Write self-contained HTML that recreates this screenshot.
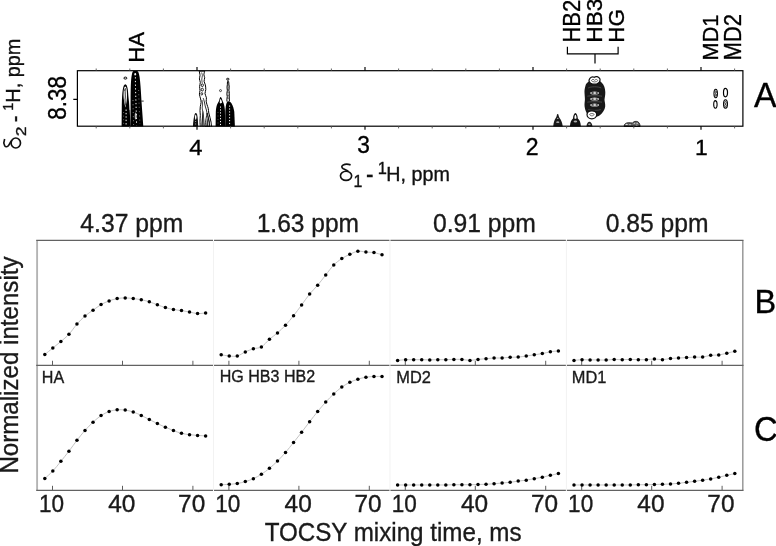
<!DOCTYPE html>
<html><head><meta charset="utf-8"><style>
html,body{margin:0;padding:0;background:#fff;}
body{width:776px;height:546px;overflow:hidden;}
svg{display:block;filter:grayscale(1);}
text{font-family:"Liberation Sans", sans-serif;}
</style></head><body>
<svg width="776" height="546" viewBox="0 0 776 546">
<rect width="776" height="546" fill="#fff"/>
<g id="contours">
<path d="M121.6,126.4 L121.8,105 C122,98 122.2,93 122.8,89.5 C123.4,86 124.2,84.3 125.3,84.2 C126.5,84.3 127.3,86 127.8,89.5 C128.3,93 128.6,98 129.4,105 L130.6,126.4 Z" fill="#000"/>
<path d="M123.5,95 C123.6,89.5 124.2,86.4 125.3,86.4 C126.4,86.4 126.9,89.5 127.0,95 C127.0,99.5 126.4,103.5 125.4,107.5 C124.4,103.5 123.6,99.5 123.5,95 Z" fill="#fff"/>
<path d="M125.3,88.2 C124.7,92 125.8,96 125.0,100 C125.4,102 125.2,104 125.4,105.5" stroke="#000" stroke-width="0.8" fill="none"/>
<path d="M124.5,91 C124.6,89.6 125,88.8 125.3,88.8" stroke="#000" stroke-width="0.5" fill="none"/>
<path d="M126.1,109.5 V125.5" stroke="#fff" stroke-width="1" stroke-dasharray="1.4 2.0" fill="none"/>
<path d="M123.6,112 V125" stroke="#fff" stroke-width="0.6" stroke-dasharray="1 2.6" fill="none" opacity="0.6"/>
<path d="M130.4,126.4 L130.6,100 C130.7,88 130.9,80 131.6,76 C132.1,72.8 132.8,71.1 133.6,71.0 L137.2,71.0 C138.2,71.1 139,73 139.6,77 C140.4,83 141,92 141.4,100 L143.3,126.4 Z" fill="#000"/>
<path d="M135.4,73.5 C135.3,90 136.2,105 136.6,125.5" stroke="#fff" stroke-width="1" stroke-dasharray="1.3 2.4" fill="none"/>
<path d="M133.0,100 C133.1,110 133.4,118 133.6,125" stroke="#fff" stroke-width="0.7" stroke-dasharray="1 3" fill="none" opacity="0.7"/>
<path d="M138.6,90 C139.0,102 139.5,114 139.9,124" stroke="#fff" stroke-width="0.7" stroke-dasharray="1 3.2" fill="none" opacity="0.6"/>
<path d="M128.9,92 C129.3,98 129.6,104 129.9,110" stroke="#fff" stroke-width="0.7" fill="none" opacity="0.8"/>
<ellipse cx="135.7" cy="116" rx="1.0" ry="3.5" fill="#fff" opacity="0.7"/>
<ellipse cx="135.2" cy="74.2" rx="0.9" ry="1.3" fill="#fff" opacity="0.9"/>
<ellipse cx="125.4" cy="78.1" rx="1.5" ry="1.0" fill="none" stroke="#000" stroke-width="1"/>
<path d="M141.3,101.1H143.7" stroke="#000" stroke-width="0.8"/>
<path d="M199.20,71.00 C199.33,71.73 199.97,74.08 200.00,75.40 C200.03,76.72 199.35,77.73 199.40,78.90 C199.45,80.07 200.27,81.13 200.30,82.40 C200.33,83.67 199.65,85.13 199.60,86.50 C199.55,87.87 200.03,89.32 200.00,90.60 C199.97,91.88 199.30,92.82 199.40,94.20 C199.50,95.58 200.32,97.53 200.60,98.90 C200.88,100.27 201.15,101.13 201.10,102.40 C201.05,103.67 200.48,105.13 200.30,106.50 C200.12,107.87 200.00,109.13 200.00,110.60 C200.00,112.07 200.30,113.53 200.30,115.30 C200.30,117.07 200.00,119.32 200.00,121.20 C200.00,123.08 200.25,125.70 200.30,126.60" fill="none" stroke="#000" stroke-width="1.0"/>
<path d="M204.70,71.00 C204.57,71.63 203.90,73.68 203.90,74.80 C203.90,75.92 204.67,76.62 204.70,77.70 C204.73,78.78 204.00,80.12 204.10,81.30 C204.20,82.48 205.02,83.43 205.30,84.80 C205.58,86.17 205.85,88.03 205.80,89.50 C205.75,90.97 204.90,92.23 205.00,93.60 C205.10,94.97 206.20,96.43 206.40,97.70 C206.60,98.97 206.10,100.03 206.20,101.20 C206.30,102.37 206.67,103.52 207.00,104.70 C207.33,105.88 207.90,106.92 208.20,108.30 C208.50,109.68 208.50,111.45 208.80,113.00 C209.10,114.55 209.62,116.05 210.00,117.60 C210.38,119.15 210.82,120.80 211.10,122.30 C211.38,123.80 211.60,125.88 211.70,126.60" fill="none" stroke="#000" stroke-width="1.0"/>
<path d="M199.3,71.2 H204.6" fill="none" stroke="#000" stroke-width="0.8"/>
<path d="M201.60,72.50 C201.73,73.00 202.37,74.42 202.40,75.50 C202.43,76.58 201.83,77.75 201.80,79.00 C201.77,80.25 202.13,82.33 202.20,83.00" fill="none" stroke="#000" stroke-width="0.7"/>
<path d="M203.20,98.00 C203.40,98.67 204.07,100.67 204.40,102.00 C204.73,103.33 204.87,104.67 205.20,106.00 C205.53,107.33 206.07,108.67 206.40,110.00 C206.73,111.33 206.87,112.67 207.20,114.00 C207.53,115.33 208.03,116.67 208.40,118.00 C208.77,119.33 209.17,120.57 209.40,122.00 C209.63,123.43 209.73,125.83 209.80,126.60" fill="none" stroke="#000" stroke-width="0.8"/>
<path d="M202.00,100.00 C202.10,100.67 202.57,102.67 202.60,104.00 C202.63,105.33 202.17,106.67 202.20,108.00 C202.23,109.33 202.73,110.67 202.80,112.00 C202.87,113.33 202.57,114.67 202.60,116.00 C202.63,117.33 202.90,118.23 203.00,120.00 C203.10,121.77 203.17,125.50 203.20,126.60" fill="none" stroke="#000" stroke-width="0.7"/>
<ellipse cx="202.3" cy="85.2" rx="1.1" ry="1.4" fill="none" stroke="#000" stroke-width="0.85"/>
<ellipse cx="202.3" cy="89.6" rx="1.1" ry="1.4" fill="none" stroke="#000" stroke-width="0.85"/>
<ellipse cx="201.8" cy="93.8" rx="0.9" ry="1.2" fill="none" stroke="#000" stroke-width="0.8"/>
<path d="M201.2,126.4 C201.6,120 202.2,115 203,110.5 C203.8,113 204.2,118 204.6,126.4 Z" fill="#222"/>
<path d="M202.6,126.4 C202.8,122 203,118 203.2,115 C203.4,118 203.5,122 203.6,126.4 Z" fill="#fff" opacity="0.6"/>
<path d="M205,126.4 C205.6,121 206.4,116 207.2,113 C208,116 208.8,121 209.8,126.4 Z" fill="none" stroke="#111" stroke-width="0.9"/>
<path d="M206.2,126.4 C206.6,122 207,119 207.3,117 C207.7,119 208.1,122 208.5,126.4 Z" fill="#333"/>
<path d="M192.9,126.4 C193.2,121 193.8,117 194.6,114.5 C195,113.4 195.5,113 195.8,113 C196.4,113 196.8,113.6 197.1,114.6 C197.7,117 198,121 198.2,126.4 Z" fill="#111"/>
<path d="M194.9,117 C195.1,115.4 195.4,114.8 195.7,114.8 C196,114.8 196.3,115.4 196.5,117 C196.4,118.6 196,119.6 195.7,120 C195.3,119.6 195,118.6 194.9,117 Z" fill="#fff"/>
<path d="M195.6,121 V126" stroke="#fff" stroke-width="0.6" stroke-dasharray="1 1.5"/>
<path d="M215.6,126.4 L215.8,112 C216,108 216.6,105 217.6,103.4 C218.2,102.5 218.8,101.8 219.2,100.6 C219.6,98.4 220,97.1 220.6,97.1 C221.4,97.3 222.2,99.5 222.8,101.6 C223.8,103.4 224.6,106 224.9,110 L225.2,126.4 Z" fill="#000"/>
<path d="M219.7,103 C219.9,100.2 220.2,99.1 220.6,99.1 C221,99.3 221.6,100.6 222.1,102.6 C221.3,103.6 220.5,103.6 219.7,103 Z" fill="#fff"/>
<path d="M220.5,106.5 V125.5" stroke="#fff" stroke-width="1" stroke-dasharray="1.2 1.7" fill="none"/>
<path d="M218.0,112 V125" stroke="#fff" stroke-width="0.5" stroke-dasharray="1 2.5" fill="none" opacity="0.6"/>
<path d="M225.2,126.4 L225.3,112 C225.5,107.5 226,104.3 226.8,102.6 C227.3,101.6 227.8,101.2 228.4,101.2 C229.4,101.2 230.6,102 231.6,103.6 C232.8,105.6 233.8,108.6 234.3,112 L234.9,126.4 Z" fill="#000"/>
<path d="M229.6,105.5 V125.5" stroke="#fff" stroke-width="1" stroke-dasharray="1.2 1.7" fill="none"/>
<path d="M227.0,101.6 C226.4,99 227.8,97 227.0,95 C226.4,93 227.8,91 227.2,89 C226.6,87 227.6,85 227.4,83 C227.2,82 227.8,81 228,80.6 C228.4,81.2 229,82 228.8,83 C228.8,85 229.6,87 229.0,89 C228.6,91 229.8,93 229.2,95 C228.8,97 229.8,99 229.4,101.4" fill="none" stroke="#000" stroke-width="1"/>
<path d="M228.1,84 V100" stroke="#000" stroke-width="0.6" stroke-dasharray="1.5 1.2"/>
<ellipse cx="227.8" cy="79.1" rx="1.3" ry="0.85" fill="none" stroke="#000" stroke-width="0.9"/>
<circle cx="220.5" cy="90.6" r="1.0" fill="none" stroke="#222" stroke-width="0.8"/>
<path d="M590.2,80.8 C587.6,82.2 585.8,83.6 585.4,86 C584.7,88.5 584.4,90.5 584.5,92.5 C584.6,95.5 585.0,97.5 584.9,99.8 C584.7,102 584.4,104 584.6,106.5 C585.0,110 586.2,113 588.4,115.2 C590.6,117.2 597.4,117.2 599.8,115.2 C602.6,113 604.8,110 605.2,106.5 C605.4,104 604.6,101.5 604.5,99.8 C604.7,97.6 605.4,95 605.3,92 C605.1,88.5 604.2,85 601.6,82.6 C600.6,81.6 599.8,81 599.4,80.8 Z" fill="#181818"/>
<path d="M588.2,88 C590,86.4 599,86.4 601.2,88 M587.4,96.2 C590,95.6 599.4,95.6 602,96.2 M587.4,102.2 C590,101.6 599.4,101.6 602,102.2 M588.2,109.6 C590.4,110.6 598.6,110.6 600.8,109.6" stroke="#666" stroke-width="0.6" fill="none"/>
<path d="M589.0,80.2 C589.8,77.6 592.4,76.0 594.2,77.4 C595.8,76.0 598.6,76.4 600.0,79.0 C600.2,81.4 598.8,83.2 597.0,83.8 C595.0,84.4 592.4,84.2 590.6,83.2 C589.4,82.4 588.9,81.4 589.0,80.2 Z" fill="#fff" stroke="#111" stroke-width="1.2"/>
<path d="M591.4,80.6 C592.2,79.0 593.8,79.0 594.6,80.4 C595.6,79.0 597.2,79.2 597.8,80.6 C596.8,82.4 592.4,82.4 591.4,80.6 Z" fill="none" stroke="#333" stroke-width="0.7"/>
<path d="M587.0,114.6 C587.2,112.0 589.4,110.8 591.8,110.9 C594.4,110.8 596.6,112.2 596.7,114.6 C596.7,117.0 594.6,118.8 591.8,118.8 C589.2,118.8 587.0,117.0 587.0,114.6 Z" fill="#fff" stroke="#111" stroke-width="1.2"/>
<path d="M589.6,114.4 C590.4,113.2 593.2,113.2 594.2,114.4 C593.4,116.2 590.6,116.4 589.6,114.4 Z" fill="none" stroke="#333" stroke-width="0.7"/>
<ellipse cx="594.6" cy="93.0" rx="4.4" ry="1.5" fill="#fff" opacity="0.8"/>
<ellipse cx="592.6" cy="93.0" rx="1.2" ry="0.7" fill="#111"/>
<ellipse cx="596.8" cy="93.0" rx="1.2" ry="0.7" fill="#111"/>
<ellipse cx="594.6" cy="99.1" rx="4.4" ry="1.5" fill="#fff" opacity="0.8"/>
<ellipse cx="592.6" cy="99.1" rx="1.2" ry="0.7" fill="#111"/>
<ellipse cx="596.8" cy="99.1" rx="1.2" ry="0.7" fill="#111"/>
<ellipse cx="594.6" cy="104.9" rx="4.4" ry="1.5" fill="#fff" opacity="0.8"/>
<ellipse cx="592.6" cy="104.9" rx="1.2" ry="0.7" fill="#111"/>
<ellipse cx="596.8" cy="104.9" rx="1.2" ry="0.7" fill="#111"/>
<path d="M553.2,126.4 C553.6,122 554.6,119.5 555.6,118.2 C556.2,117.4 556.6,116.6 556.8,115.4 C556.9,114.4 557.3,113.9 557.7,113.9 C558.2,113.9 558.5,114.4 558.6,115.4 C558.8,116.6 559.2,117.4 559.8,118.2 C560.8,119.5 562.2,122 562.8,126.4 Z" fill="#1a1a1a"/>
<ellipse cx="557.8" cy="122.2" rx="1.6" ry="0.9" fill="#fff" opacity="0.6"/>
<ellipse cx="557.7" cy="118.4" rx="0.8" ry="0.7" fill="#fff" opacity="0.6"/>
<path d="M569.9,126.4 C570.2,122 571.4,119.6 573,118.4 C573.2,115.6 574.2,113 575.4,113 C576.6,113 577.6,115.6 577.8,118.4 C579.6,119.6 580.6,122 580.9,126.4 Z" fill="#111"/>
<path d="M574.4,118.2 C574.4,116 574.9,114.8 575.4,114.8 C575.9,114.8 576.5,116 576.5,118.2 C576,119 574.8,119 574.4,118.2 Z" fill="#fff"/>
<ellipse cx="575.4" cy="121.4" rx="1.8" ry="1" fill="#fff" opacity="0.65"/>
<path d="M586.4,126.4 C586.8,123.4 588,121.8 589.4,121.8 C590.8,121.8 592,123.4 592.5,126.4 Z" fill="#222"/>
<ellipse cx="589.4" cy="124.4" rx="1.2" ry="0.8" fill="#fff" opacity="0.6"/>
<path d="M624.1,126.4 C624.2,124.4 625.6,122.9 628.2,122.8 C630,122.8 631.4,122.9 632.4,123.1 C633.2,121.9 634.8,121.3 636.4,121.4 C638.6,121.6 639.8,123.2 640.1,126.4 Z" fill="#6a6a6a" stroke="#111" stroke-width="0.9"/>
<ellipse cx="626.6" cy="124.4" rx="1.2" ry="0.6" fill="#fff" opacity="0.8"/>
<ellipse cx="630.0" cy="124.8" rx="1.0" ry="0.5" fill="#ddd"/>
<ellipse cx="634.4" cy="123.2" rx="0.8" ry="0.5" fill="#fff" opacity="0.8"/>
<ellipse cx="637.2" cy="123.3" rx="0.8" ry="0.5" fill="#fff" opacity="0.8"/>
<ellipse cx="636.6" cy="125.2" rx="1.0" ry="0.5" fill="#ddd"/>
<g fill="none" stroke="#000">
<ellipse cx="715.7" cy="93.5" rx="1.75" ry="4.2" stroke-width="1.05"/>
<ellipse cx="715.7" cy="92.0" rx="0.75" ry="1.2" stroke-width="0.7"/>
<ellipse cx="715.7" cy="95.0" rx="0.75" ry="1.2" stroke-width="0.7"/>
<path d="M725.4,88.3 C727.0,88.3 727.6,90.5 727.5,93 C727.4,95.4 726.6,96.8 725.4,96.8 C724.2,96.8 723.5,95.2 723.5,92.8 C723.5,90.2 724.0,88.3 725.4,88.3 Z" stroke-width="1.2"/>
<path d="M715.4,100.6 C716.6,100.8 717.1,102.6 717.1,104.6 C717.1,106.8 716.4,108.2 715.4,108.2 C714.4,108.2 713.7,106.8 713.7,104.6 C713.7,102.4 714.3,100.6 715.4,100.6 Z" stroke-width="1.1"/>
<ellipse cx="725.5" cy="104" rx="1.95" ry="4.3" stroke-width="1.1"/>
<ellipse cx="725.5" cy="102.6" rx="0.8" ry="1.3" stroke-width="0.7"/>
<ellipse cx="725.5" cy="105.6" rx="0.8" ry="1.3" stroke-width="0.7"/>
</g>
</g>
<rect x="77.4" y="70.7" width="665.5" height="55.5" fill="none" stroke="#000" stroke-width="1.2"/>
<path d="M197.00,70.70V66.90M197.00,126.20V129.80M365.00,70.70V66.90M365.00,126.20V129.80M533.00,70.70V66.90M533.00,126.20V129.80M701.00,70.70V66.90M701.00,126.20V129.80M77.40,99.4H73.3" stroke="#000" stroke-width="1.15" fill="none"/>
<path d="M96.20,70.70V68.50M96.20,126.20V128.40M129.80,70.70V68.50M129.80,126.20V128.40M163.40,70.70V68.50M163.40,126.20V128.40M230.60,70.70V68.50M230.60,126.20V128.40M264.20,70.70V68.50M264.20,126.20V128.40M297.80,70.70V68.50M297.80,126.20V128.40M331.40,70.70V68.50M331.40,126.20V128.40M398.60,70.70V68.50M398.60,126.20V128.40M432.20,70.70V68.50M432.20,126.20V128.40M465.80,70.70V68.50M465.80,126.20V128.40M499.40,70.70V68.50M499.40,126.20V128.40M566.60,70.70V68.50M566.60,126.20V128.40M600.20,70.70V68.50M600.20,126.20V128.40M633.80,70.70V68.50M633.80,126.20V128.40M667.40,70.70V68.50M667.40,126.20V128.40M734.60,70.70V68.50M734.60,126.20V128.40" stroke="#555" stroke-width="0.9" fill="none"/>
<path d="M567.4,46.8V53.8H618.1V46.8M595,53.8V63.5" stroke="#000" stroke-width="1.2" fill="none"/>
<g style="font-family:'Liberation Sans', sans-serif">
<text transform="translate(189.37,154.70) scale(1.0472,1)" font-size="22.69" fill="#000" stroke="#000" stroke-width="0.35" >4</text>
<text transform="translate(357.35,153.37) scale(0.9809,1)" font-size="23.18" fill="#000" stroke="#000" stroke-width="0.35" >3</text>
<text transform="translate(525.65,154.70) scale(0.9815,1)" font-size="23.51" fill="#000" stroke="#000" stroke-width="0.35" >2</text>
<text transform="translate(695.08,154.50) scale(1.0024,1)" font-size="22.84" fill="#000" stroke="#000" stroke-width="0.35" >1</text>
<text transform="translate(754.12,107.30) scale(0.9645,1)" font-size="35.05" fill="#000" stroke="#000" stroke-width="0.35" >A</text>
<text transform="translate(66.04,119.75) rotate(-90) scale(0.8763,1)" font-size="25.58" fill="#000" stroke="#000" stroke-width="0.35">8.38</text>
<text transform="translate(143.90,62.73) rotate(-90) scale(0.9636,1)" font-size="22.98" fill="#000" stroke="#000" stroke-width="0.35">HA</text>
<text transform="translate(580.10,42.62) rotate(-90) scale(0.9537,1)" font-size="23.08" fill="#000" stroke="#000" stroke-width="0.35">HB2</text>
<text transform="translate(602.27,42.67) rotate(-90) scale(0.9910,1)" font-size="22.90" fill="#000" stroke="#000" stroke-width="0.35">HB3</text>
<text transform="translate(624.07,42.65) rotate(-90) scale(0.9792,1)" font-size="22.90" fill="#000" stroke="#000" stroke-width="0.35">HG</text>
<text transform="translate(717.60,60.39) rotate(-90) scale(0.9610,1)" font-size="22.55" fill="#000" stroke="#000" stroke-width="0.35">MD1</text>
<text transform="translate(740.80,60.41) rotate(-90) scale(0.9243,1)" font-size="23.80" fill="#000" stroke="#000" stroke-width="0.35">MD2</text>
</g>
<g style="font-family:'Liberation Sans', sans-serif">
<g fill="none" stroke="#111" stroke-width="1.65"><ellipse cx="346.05" cy="175.8" rx="5.6" ry="4.6"/><path d="M350.6,164.9 C348.6,164.2 345,164.1 343.2,164.9 C341.2,165.9 341.5,167.7 343.3,168.8 C344.8,169.6 346.6,170.4 348.4,171.5"/></g>
<text transform="translate(353.50,186.90) scale(0.9793,1)" font-size="16.29" fill="#111" stroke="#111" stroke-width="0.35" >1</text>
<text transform="translate(366.08,183.36) scale(0.7990,1)" font-size="28.39" fill="#111" stroke="#111" stroke-width="0.35" >-</text>
<text transform="translate(377.77,173.50) scale(1.0077,1)" font-size="16.29" fill="#111" stroke="#111" stroke-width="0.35" >1</text>
<text transform="translate(386.37,180.70) scale(1.0043,1)" font-size="19.62" fill="#111" stroke="#111" stroke-width="0.35">H, ppm</text>
<g transform="matrix(0,-0.8992,1.0227,0,-164.01,454.17)"><g fill="none" stroke="#111" stroke-width="1.65"><ellipse cx="346.05" cy="175.8" rx="5.6" ry="4.6"/><path d="M350.6,164.9 C348.6,164.2 345,164.1 343.2,164.9 C341.2,165.9 341.5,167.7 343.3,168.8 C344.8,169.6 346.6,170.4 348.4,171.5"/></g></g>
<text transform="translate(25.80,136.28) rotate(-90) scale(1.2514,1)" font-size="14.05" fill="#111" stroke="#111" stroke-width="0.35">2</text>
<text transform="translate(21.58,122.21) rotate(-90) scale(0.8242,1)" font-size="24.52" fill="#111" stroke="#111" stroke-width="0.35">-</text>
<text transform="translate(12.90,110.68) rotate(-90) scale(0.9476,1)" font-size="15.13" fill="#111" stroke="#111" stroke-width="0.35">1</text>
<text transform="translate(20.30,102.64) rotate(-90) scale(1.0126,1)" font-size="19.62" fill="#111" stroke="#111" stroke-width="0.35">H, ppm</text>
</g>
<line x1="213.52" y1="240.45" x2="213.52" y2="490.4" stroke="#f2f2f2" stroke-width="1"/>
<line x1="389.95" y1="240.45" x2="389.95" y2="490.4" stroke="#f2f2f2" stroke-width="1"/>
<line x1="566.38" y1="240.45" x2="566.38" y2="490.4" stroke="#f2f2f2" stroke-width="1"/>
<path d="M52.50,365.35V360.75M52.50,490.4V485.80M122.50,365.35V360.75M122.50,490.4V485.80M192.90,365.35V360.75M192.90,490.4V485.80M228.90,365.35V360.75M228.90,490.4V485.80M298.90,365.35V360.75M298.90,490.4V485.80M369.30,365.35V360.75M369.30,490.4V485.80M405.30,365.35V360.75M405.30,490.4V485.80M475.30,365.35V360.75M475.30,490.4V485.80M545.70,365.35V360.75M545.70,490.4V485.80M581.70,365.35V360.75M581.70,490.4V485.80M651.70,365.35V360.75M651.70,490.4V485.80M722.10,365.35V360.75M722.10,490.4V485.80" stroke="#555" stroke-width="0.95" fill="none"/>
<path d="M37.1,240.45V490.4" stroke="#b4b4b4" stroke-width="1.9" fill="none"/>
<path d="M742.8,240.45V490.4" stroke="#999" stroke-width="1.5" fill="none"/>
<path d="M36.20,240.45H213.02M36.20,365.35H213.02M36.20,490.4H213.02M214.02,240.45H389.45M214.02,365.35H389.45M214.02,490.4H389.45M390.45,240.45H565.88M390.45,365.35H565.88M390.45,490.4H565.88M566.88,240.45H743.50M566.88,365.35H743.50M566.88,490.4H743.50" stroke="#5e6363" stroke-width="1.3" fill="none"/>
<path d="M44.80,354.50 C46.14,353.42 50.16,350.17 52.84,348.00 C55.52,345.83 58.20,343.78 60.88,341.50 C63.56,339.22 66.24,337.20 68.92,334.30 C71.60,331.40 74.28,327.15 76.96,324.10 C79.64,321.05 82.32,318.32 85.00,316.00 C87.68,313.68 90.36,312.10 93.04,310.20 C95.72,308.30 98.40,306.15 101.08,304.60 C103.76,303.05 106.44,301.90 109.12,300.90 C111.80,299.90 114.48,299.10 117.16,298.60 C119.84,298.10 122.52,297.90 125.20,297.90 C127.88,297.90 130.56,298.30 133.24,298.60 C135.92,298.90 138.60,299.17 141.28,299.70 C143.96,300.23 146.64,300.95 149.32,301.80 C152.00,302.65 154.68,303.83 157.36,304.80 C160.04,305.77 162.72,306.82 165.40,307.60 C168.08,308.38 170.76,309.00 173.44,309.50 C176.12,310.00 178.80,310.18 181.48,310.60 C184.16,311.02 186.84,311.50 189.52,312.00 C192.20,312.50 194.88,313.45 197.56,313.60 C200.24,313.75 204.26,313.02 205.60,312.90" stroke="#c4c4c4" stroke-width="1" fill="none"/>
<circle cx="44.80" cy="354.50" r="1.75"/><circle cx="52.84" cy="348.00" r="1.75"/><circle cx="60.88" cy="341.50" r="1.75"/><circle cx="68.92" cy="334.30" r="1.75"/><circle cx="76.96" cy="324.10" r="1.75"/><circle cx="85.00" cy="316.00" r="1.75"/><circle cx="93.04" cy="310.20" r="1.75"/><circle cx="101.08" cy="304.60" r="1.75"/><circle cx="109.12" cy="300.90" r="1.75"/><circle cx="117.16" cy="298.60" r="1.75"/><circle cx="125.20" cy="297.90" r="1.75"/><circle cx="133.24" cy="298.60" r="1.75"/><circle cx="141.28" cy="299.70" r="1.75"/><circle cx="149.32" cy="301.80" r="1.75"/><circle cx="157.36" cy="304.80" r="1.75"/><circle cx="165.40" cy="307.60" r="1.75"/><circle cx="173.44" cy="309.50" r="1.75"/><circle cx="181.48" cy="310.60" r="1.75"/><circle cx="189.52" cy="312.00" r="1.75"/><circle cx="197.56" cy="313.60" r="1.75"/><circle cx="205.60" cy="312.90" r="1.75"/>
<path d="M44.80,478.50 C46.14,477.25 50.16,473.87 52.84,471.00 C55.52,468.13 58.20,464.60 60.88,461.30 C63.56,458.00 66.24,454.70 68.92,451.20 C71.60,447.70 74.28,443.77 76.96,440.30 C79.64,436.83 82.32,433.42 85.00,430.40 C87.68,427.38 90.36,424.67 93.04,422.20 C95.72,419.73 98.40,417.38 101.08,415.60 C103.76,413.82 106.44,412.47 109.12,411.50 C111.80,410.53 114.48,410.03 117.16,409.80 C119.84,409.57 122.52,409.73 125.20,410.10 C127.88,410.47 130.56,411.12 133.24,412.00 C135.92,412.88 138.60,414.15 141.28,415.40 C143.96,416.65 146.64,418.13 149.32,419.50 C152.00,420.87 154.68,422.32 157.36,423.60 C160.04,424.88 162.72,426.03 165.40,427.20 C168.08,428.37 170.76,429.58 173.44,430.60 C176.12,431.62 178.80,432.62 181.48,433.30 C184.16,433.98 186.84,434.35 189.52,434.70 C192.20,435.05 194.88,435.20 197.56,435.40 C200.24,435.60 204.26,435.82 205.60,435.90" stroke="#c4c4c4" stroke-width="1" fill="none"/>
<circle cx="44.80" cy="478.50" r="1.75"/><circle cx="52.84" cy="471.00" r="1.75"/><circle cx="60.88" cy="461.30" r="1.75"/><circle cx="68.92" cy="451.20" r="1.75"/><circle cx="76.96" cy="440.30" r="1.75"/><circle cx="85.00" cy="430.40" r="1.75"/><circle cx="93.04" cy="422.20" r="1.75"/><circle cx="101.08" cy="415.60" r="1.75"/><circle cx="109.12" cy="411.50" r="1.75"/><circle cx="117.16" cy="409.80" r="1.75"/><circle cx="125.20" cy="410.10" r="1.75"/><circle cx="133.24" cy="412.00" r="1.75"/><circle cx="141.28" cy="415.40" r="1.75"/><circle cx="149.32" cy="419.50" r="1.75"/><circle cx="157.36" cy="423.60" r="1.75"/><circle cx="165.40" cy="427.20" r="1.75"/><circle cx="173.44" cy="430.60" r="1.75"/><circle cx="181.48" cy="433.30" r="1.75"/><circle cx="189.52" cy="434.70" r="1.75"/><circle cx="197.56" cy="435.40" r="1.75"/><circle cx="205.60" cy="435.90" r="1.75"/>
<path d="M221.20,354.80 C222.54,355.00 226.56,355.80 229.24,356.00 C231.92,356.20 234.60,356.68 237.28,356.00 C239.96,355.32 242.64,353.10 245.32,351.90 C248.00,350.70 250.68,349.63 253.36,348.80 C256.04,347.97 258.72,348.48 261.40,346.90 C264.08,345.32 266.76,341.63 269.44,339.30 C272.12,336.97 274.80,335.25 277.48,332.90 C280.16,330.55 282.84,328.07 285.52,325.20 C288.20,322.33 290.88,319.07 293.56,315.70 C296.24,312.33 298.92,308.62 301.60,305.00 C304.28,301.38 306.96,297.30 309.64,294.00 C312.32,290.70 315.00,288.37 317.68,285.20 C320.36,282.03 323.04,278.37 325.72,275.00 C328.40,271.63 331.08,267.73 333.76,265.00 C336.44,262.27 339.12,260.38 341.80,258.60 C344.48,256.82 347.16,255.53 349.84,254.30 C352.52,253.07 355.20,251.57 357.88,251.20 C360.56,250.83 363.24,251.87 365.92,252.10 C368.60,252.33 371.28,252.15 373.96,252.60 C376.64,253.05 380.66,254.43 382.00,254.80" stroke="#c4c4c4" stroke-width="1" fill="none"/>
<circle cx="221.20" cy="354.80" r="1.75"/><circle cx="229.24" cy="356.00" r="1.75"/><circle cx="237.28" cy="356.00" r="1.75"/><circle cx="245.32" cy="351.90" r="1.75"/><circle cx="253.36" cy="348.80" r="1.75"/><circle cx="261.40" cy="346.90" r="1.75"/><circle cx="269.44" cy="339.30" r="1.75"/><circle cx="277.48" cy="332.90" r="1.75"/><circle cx="285.52" cy="325.20" r="1.75"/><circle cx="293.56" cy="315.70" r="1.75"/><circle cx="301.60" cy="305.00" r="1.75"/><circle cx="309.64" cy="294.00" r="1.75"/><circle cx="317.68" cy="285.20" r="1.75"/><circle cx="325.72" cy="275.00" r="1.75"/><circle cx="333.76" cy="265.00" r="1.75"/><circle cx="341.80" cy="258.60" r="1.75"/><circle cx="349.84" cy="254.30" r="1.75"/><circle cx="357.88" cy="251.20" r="1.75"/><circle cx="365.92" cy="252.10" r="1.75"/><circle cx="373.96" cy="252.60" r="1.75"/><circle cx="382.00" cy="254.80" r="1.75"/>
<path d="M221.20,484.70 C222.54,484.63 226.56,484.50 229.24,484.30 C231.92,484.10 234.60,483.95 237.28,483.50 C239.96,483.05 242.64,482.40 245.32,481.60 C248.00,480.80 250.68,479.92 253.36,478.70 C256.04,477.48 258.72,476.03 261.40,474.30 C264.08,472.57 266.76,470.50 269.44,468.30 C272.12,466.10 274.80,463.75 277.48,461.10 C280.16,458.45 282.84,455.50 285.52,452.40 C288.20,449.30 290.88,445.85 293.56,442.50 C296.24,439.15 298.92,435.77 301.60,432.30 C304.28,428.83 306.96,425.17 309.64,421.70 C312.32,418.23 315.00,414.77 317.68,411.50 C320.36,408.23 323.04,405.03 325.72,402.10 C328.40,399.17 331.08,396.40 333.76,393.90 C336.44,391.40 339.12,389.03 341.80,387.10 C344.48,385.17 347.16,383.62 349.84,382.30 C352.52,380.98 355.20,380.05 357.88,379.20 C360.56,378.35 363.24,377.65 365.92,377.20 C368.60,376.75 371.28,376.62 373.96,376.50 C376.64,376.38 380.66,376.50 382.00,376.50" stroke="#c4c4c4" stroke-width="1" fill="none"/>
<circle cx="221.20" cy="484.70" r="1.75"/><circle cx="229.24" cy="484.30" r="1.75"/><circle cx="237.28" cy="483.50" r="1.75"/><circle cx="245.32" cy="481.60" r="1.75"/><circle cx="253.36" cy="478.70" r="1.75"/><circle cx="261.40" cy="474.30" r="1.75"/><circle cx="269.44" cy="468.30" r="1.75"/><circle cx="277.48" cy="461.10" r="1.75"/><circle cx="285.52" cy="452.40" r="1.75"/><circle cx="293.56" cy="442.50" r="1.75"/><circle cx="301.60" cy="432.30" r="1.75"/><circle cx="309.64" cy="421.70" r="1.75"/><circle cx="317.68" cy="411.50" r="1.75"/><circle cx="325.72" cy="402.10" r="1.75"/><circle cx="333.76" cy="393.90" r="1.75"/><circle cx="341.80" cy="387.10" r="1.75"/><circle cx="349.84" cy="382.30" r="1.75"/><circle cx="357.88" cy="379.20" r="1.75"/><circle cx="365.92" cy="377.20" r="1.75"/><circle cx="373.96" cy="376.50" r="1.75"/><circle cx="382.00" cy="376.50" r="1.75"/>
<path d="M397.60,360.40 C398.94,360.28 402.96,359.82 405.64,359.70 C408.32,359.58 411.00,359.70 413.68,359.70 C416.36,359.70 419.04,359.67 421.72,359.70 C424.40,359.73 427.08,359.90 429.76,359.90 C432.44,359.90 435.12,359.73 437.80,359.70 C440.48,359.67 443.16,359.75 445.84,359.70 C448.52,359.65 451.20,359.45 453.88,359.40 C456.56,359.35 459.24,359.23 461.92,359.40 C464.60,359.57 467.28,360.40 469.96,360.40 C472.64,360.40 475.32,359.68 478.00,359.40 C480.68,359.12 483.36,358.93 486.04,358.70 C488.72,358.47 491.40,358.12 494.08,358.00 C496.76,357.88 499.44,358.12 502.12,358.00 C504.80,357.88 507.48,357.45 510.16,357.30 C512.84,357.15 515.52,357.32 518.20,357.10 C520.88,356.88 523.56,356.38 526.24,356.00 C528.92,355.62 531.60,355.20 534.28,354.80 C536.96,354.40 539.64,354.10 542.32,353.60 C545.00,353.10 547.68,352.25 550.36,351.80 C553.04,351.35 557.06,351.05 558.40,350.90" stroke="#c4c4c4" stroke-width="1" fill="none"/>
<circle cx="397.60" cy="360.40" r="1.75"/><circle cx="405.64" cy="359.70" r="1.75"/><circle cx="413.68" cy="359.70" r="1.75"/><circle cx="421.72" cy="359.70" r="1.75"/><circle cx="429.76" cy="359.90" r="1.75"/><circle cx="437.80" cy="359.70" r="1.75"/><circle cx="445.84" cy="359.70" r="1.75"/><circle cx="453.88" cy="359.40" r="1.75"/><circle cx="461.92" cy="359.40" r="1.75"/><circle cx="469.96" cy="360.40" r="1.75"/><circle cx="478.00" cy="359.40" r="1.75"/><circle cx="486.04" cy="358.70" r="1.75"/><circle cx="494.08" cy="358.00" r="1.75"/><circle cx="502.12" cy="358.00" r="1.75"/><circle cx="510.16" cy="357.30" r="1.75"/><circle cx="518.20" cy="357.10" r="1.75"/><circle cx="526.24" cy="356.00" r="1.75"/><circle cx="534.28" cy="354.80" r="1.75"/><circle cx="542.32" cy="353.60" r="1.75"/><circle cx="550.36" cy="351.80" r="1.75"/><circle cx="558.40" cy="350.90" r="1.75"/>
<path d="M397.60,484.98 C398.94,484.98 402.96,484.98 405.64,484.98 C408.32,484.98 411.00,484.98 413.68,484.98 C416.36,484.98 419.04,484.98 421.72,484.98 C424.40,484.98 427.08,484.98 429.76,484.98 C432.44,484.98 435.12,484.98 437.80,484.98 C440.48,484.98 443.16,485.02 445.84,484.98 C448.52,484.94 451.20,484.78 453.88,484.73 C456.56,484.69 459.24,484.73 461.92,484.73 C464.60,484.73 467.28,484.78 469.96,484.73 C472.64,484.69 475.32,484.57 478.00,484.49 C480.68,484.41 483.36,484.37 486.04,484.25 C488.72,484.13 491.40,483.97 494.08,483.77 C496.76,483.57 499.44,483.29 502.12,483.04 C504.80,482.80 507.48,482.64 510.16,482.32 C512.84,482.00 515.52,481.47 518.20,481.11 C520.88,480.75 523.56,480.55 526.24,480.14 C528.92,479.74 531.60,479.18 534.28,478.69 C536.96,478.21 539.64,477.81 542.32,477.25 C545.00,476.68 547.68,475.92 550.36,475.31 C553.04,474.71 557.06,473.90 558.40,473.62" stroke="#c4c4c4" stroke-width="1" fill="none"/>
<circle cx="397.60" cy="484.98" r="1.75"/><circle cx="405.64" cy="484.98" r="1.75"/><circle cx="413.68" cy="484.98" r="1.75"/><circle cx="421.72" cy="484.98" r="1.75"/><circle cx="429.76" cy="484.98" r="1.75"/><circle cx="437.80" cy="484.98" r="1.75"/><circle cx="445.84" cy="484.98" r="1.75"/><circle cx="453.88" cy="484.73" r="1.75"/><circle cx="461.92" cy="484.73" r="1.75"/><circle cx="469.96" cy="484.73" r="1.75"/><circle cx="478.00" cy="484.49" r="1.75"/><circle cx="486.04" cy="484.25" r="1.75"/><circle cx="494.08" cy="483.77" r="1.75"/><circle cx="502.12" cy="483.04" r="1.75"/><circle cx="510.16" cy="482.32" r="1.75"/><circle cx="518.20" cy="481.11" r="1.75"/><circle cx="526.24" cy="480.14" r="1.75"/><circle cx="534.28" cy="478.69" r="1.75"/><circle cx="542.32" cy="477.25" r="1.75"/><circle cx="550.36" cy="475.31" r="1.75"/><circle cx="558.40" cy="473.62" r="1.75"/>
<path d="M574.00,360.40 C575.34,360.28 579.36,359.78 582.04,359.70 C584.72,359.62 587.40,359.87 590.08,359.90 C592.76,359.93 595.44,359.87 598.12,359.90 C600.80,359.93 603.48,360.18 606.16,360.10 C608.84,360.02 611.52,359.47 614.20,359.40 C616.88,359.33 619.56,359.70 622.24,359.70 C624.92,359.70 627.60,359.40 630.28,359.40 C632.96,359.40 635.64,359.65 638.32,359.70 C641.00,359.75 643.68,359.82 646.36,359.70 C649.04,359.58 651.72,359.00 654.40,359.00 C657.08,359.00 659.76,359.78 662.44,359.70 C665.12,359.62 667.80,358.78 670.48,358.50 C673.16,358.22 675.84,358.15 678.52,358.00 C681.20,357.85 683.88,357.75 686.56,357.60 C689.24,357.45 691.92,357.18 694.60,357.10 C697.28,357.02 699.96,357.40 702.64,357.10 C705.32,356.80 708.00,355.65 710.68,355.30 C713.36,354.95 716.04,355.35 718.72,355.00 C721.40,354.65 724.08,353.82 726.76,353.20 C729.44,352.58 733.46,351.62 734.80,351.30" stroke="#c4c4c4" stroke-width="1" fill="none"/>
<circle cx="574.00" cy="360.40" r="1.75"/><circle cx="582.04" cy="359.70" r="1.75"/><circle cx="590.08" cy="359.90" r="1.75"/><circle cx="598.12" cy="359.90" r="1.75"/><circle cx="606.16" cy="360.10" r="1.75"/><circle cx="614.20" cy="359.40" r="1.75"/><circle cx="622.24" cy="359.70" r="1.75"/><circle cx="630.28" cy="359.40" r="1.75"/><circle cx="638.32" cy="359.70" r="1.75"/><circle cx="646.36" cy="359.70" r="1.75"/><circle cx="654.40" cy="359.00" r="1.75"/><circle cx="662.44" cy="359.70" r="1.75"/><circle cx="670.48" cy="358.50" r="1.75"/><circle cx="678.52" cy="358.00" r="1.75"/><circle cx="686.56" cy="357.60" r="1.75"/><circle cx="694.60" cy="357.10" r="1.75"/><circle cx="702.64" cy="357.10" r="1.75"/><circle cx="710.68" cy="355.30" r="1.75"/><circle cx="718.72" cy="355.00" r="1.75"/><circle cx="726.76" cy="353.20" r="1.75"/><circle cx="734.80" cy="351.30" r="1.75"/>
<path d="M574.00,484.98 C575.34,484.98 579.36,484.98 582.04,484.98 C584.72,484.98 587.40,484.98 590.08,484.98 C592.76,484.98 595.44,484.98 598.12,484.98 C600.80,484.98 603.48,484.98 606.16,484.98 C608.84,484.98 611.52,484.98 614.20,484.98 C616.88,484.98 619.56,484.98 622.24,484.98 C624.92,484.98 627.60,485.02 630.28,484.98 C632.96,484.94 635.64,484.78 638.32,484.73 C641.00,484.69 643.68,484.78 646.36,484.73 C649.04,484.69 651.72,484.57 654.40,484.49 C657.08,484.41 659.76,484.33 662.44,484.25 C665.12,484.17 667.80,484.17 670.48,484.01 C673.16,483.85 675.84,483.57 678.52,483.29 C681.20,483.00 683.88,482.64 686.56,482.32 C689.24,482.00 691.92,481.71 694.60,481.35 C697.28,480.99 699.96,480.55 702.64,480.14 C705.32,479.74 708.00,479.42 710.68,478.94 C713.36,478.45 716.04,477.85 718.72,477.25 C721.40,476.64 724.08,475.92 726.76,475.31 C729.44,474.71 733.46,473.90 734.80,473.62" stroke="#c4c4c4" stroke-width="1" fill="none"/>
<circle cx="574.00" cy="484.98" r="1.75"/><circle cx="582.04" cy="484.98" r="1.75"/><circle cx="590.08" cy="484.98" r="1.75"/><circle cx="598.12" cy="484.98" r="1.75"/><circle cx="606.16" cy="484.98" r="1.75"/><circle cx="614.20" cy="484.98" r="1.75"/><circle cx="622.24" cy="484.98" r="1.75"/><circle cx="630.28" cy="484.98" r="1.75"/><circle cx="638.32" cy="484.73" r="1.75"/><circle cx="646.36" cy="484.73" r="1.75"/><circle cx="654.40" cy="484.49" r="1.75"/><circle cx="662.44" cy="484.25" r="1.75"/><circle cx="670.48" cy="484.01" r="1.75"/><circle cx="678.52" cy="483.29" r="1.75"/><circle cx="686.56" cy="482.32" r="1.75"/><circle cx="694.60" cy="481.35" r="1.75"/><circle cx="702.64" cy="480.14" r="1.75"/><circle cx="710.68" cy="478.94" r="1.75"/><circle cx="718.72" cy="477.25" r="1.75"/><circle cx="726.76" cy="475.31" r="1.75"/><circle cx="734.80" cy="473.62" r="1.75"/>
<g style="font-family:'Liberation Sans', sans-serif">
<text transform="translate(80.34,231.75) scale(0.9526,1)" font-size="25.94" fill="#1a1a1a" stroke="#1a1a1a" stroke-width="0.35">4.37 ppm</text>
<text transform="translate(256.66,231.70) scale(0.9549,1)" font-size="25.73" fill="#1a1a1a" stroke="#1a1a1a" stroke-width="0.35">1.63 ppm</text>
<text transform="translate(432.91,231.70) scale(0.9641,1)" font-size="25.64" fill="#1a1a1a" stroke="#1a1a1a" stroke-width="0.35">0.91 ppm</text>
<text transform="translate(605.81,231.70) scale(0.9612,1)" font-size="25.64" fill="#1a1a1a" stroke="#1a1a1a" stroke-width="0.35">0.85 ppm</text>
<text transform="translate(754.52,312.60) scale(0.9545,1)" font-size="34.04" fill="#000" stroke="#000" stroke-width="0.35" >B</text>
<text transform="translate(754.06,441.36) scale(0.9575,1)" font-size="34.35" fill="#000" stroke="#000" stroke-width="0.35" >C</text>
<text transform="translate(38.91,511.67) scale(0.9614,1)" font-size="23.46" fill="#1a1a1a" stroke="#1a1a1a" stroke-width="0.35" >10</text>
<text transform="translate(108.15,511.67) scale(1.0432,1)" font-size="23.46" fill="#1a1a1a" stroke="#1a1a1a" stroke-width="0.35" >40</text>
<text transform="translate(178.12,511.67) scale(1.0404,1)" font-size="23.46" fill="#1a1a1a" stroke="#1a1a1a" stroke-width="0.35" >70</text>
<text transform="translate(215.31,511.67) scale(0.9614,1)" font-size="23.46" fill="#1a1a1a" stroke="#1a1a1a" stroke-width="0.35" >10</text>
<text transform="translate(284.55,511.67) scale(1.0432,1)" font-size="23.46" fill="#1a1a1a" stroke="#1a1a1a" stroke-width="0.35" >40</text>
<text transform="translate(354.52,511.67) scale(1.0404,1)" font-size="23.46" fill="#1a1a1a" stroke="#1a1a1a" stroke-width="0.35" >70</text>
<text transform="translate(391.71,511.67) scale(0.9614,1)" font-size="23.46" fill="#1a1a1a" stroke="#1a1a1a" stroke-width="0.35" >10</text>
<text transform="translate(460.95,511.67) scale(1.0432,1)" font-size="23.46" fill="#1a1a1a" stroke="#1a1a1a" stroke-width="0.35" >40</text>
<text transform="translate(530.92,511.67) scale(1.0404,1)" font-size="23.46" fill="#1a1a1a" stroke="#1a1a1a" stroke-width="0.35" >70</text>
<text transform="translate(568.11,511.67) scale(0.9614,1)" font-size="23.46" fill="#1a1a1a" stroke="#1a1a1a" stroke-width="0.35" >10</text>
<text transform="translate(637.35,511.67) scale(1.0432,1)" font-size="23.46" fill="#1a1a1a" stroke="#1a1a1a" stroke-width="0.35" >40</text>
<text transform="translate(707.32,511.67) scale(1.0404,1)" font-size="23.46" fill="#1a1a1a" stroke="#1a1a1a" stroke-width="0.35" >70</text>
<text transform="translate(264.66,540.70) scale(0.9506,1)" font-size="25.44" fill="#1a1a1a" stroke="#1a1a1a" stroke-width="0.35">TOCSY mixing time, ms</text>
<text transform="translate(41.87,382.80) scale(0.9297,1)" font-size="17.31" fill="#1a1a1a" stroke="#1a1a1a" stroke-width="0.35" >HA</text>
<text transform="translate(219.78,382.43) scale(0.9706,1)" font-size="16.54" fill="#1a1a1a" stroke="#1a1a1a" stroke-width="0.35" >HG HB3 HB2</text>
<text transform="translate(396.25,382.90) scale(0.9603,1)" font-size="17.06" fill="#1a1a1a" stroke="#1a1a1a" stroke-width="0.35" >MD2</text>
<text transform="translate(571.75,382.90) scale(0.9483,1)" font-size="17.31" fill="#1a1a1a" stroke="#1a1a1a" stroke-width="0.35" >MD1</text>
<text transform="translate(18.30,473.59) rotate(-90) scale(0.9538,1)" font-size="25.29" fill="#1a1a1a" stroke="#1a1a1a" stroke-width="0.35">Normalized intensity</text>
</g>
</svg>
</body></html>
